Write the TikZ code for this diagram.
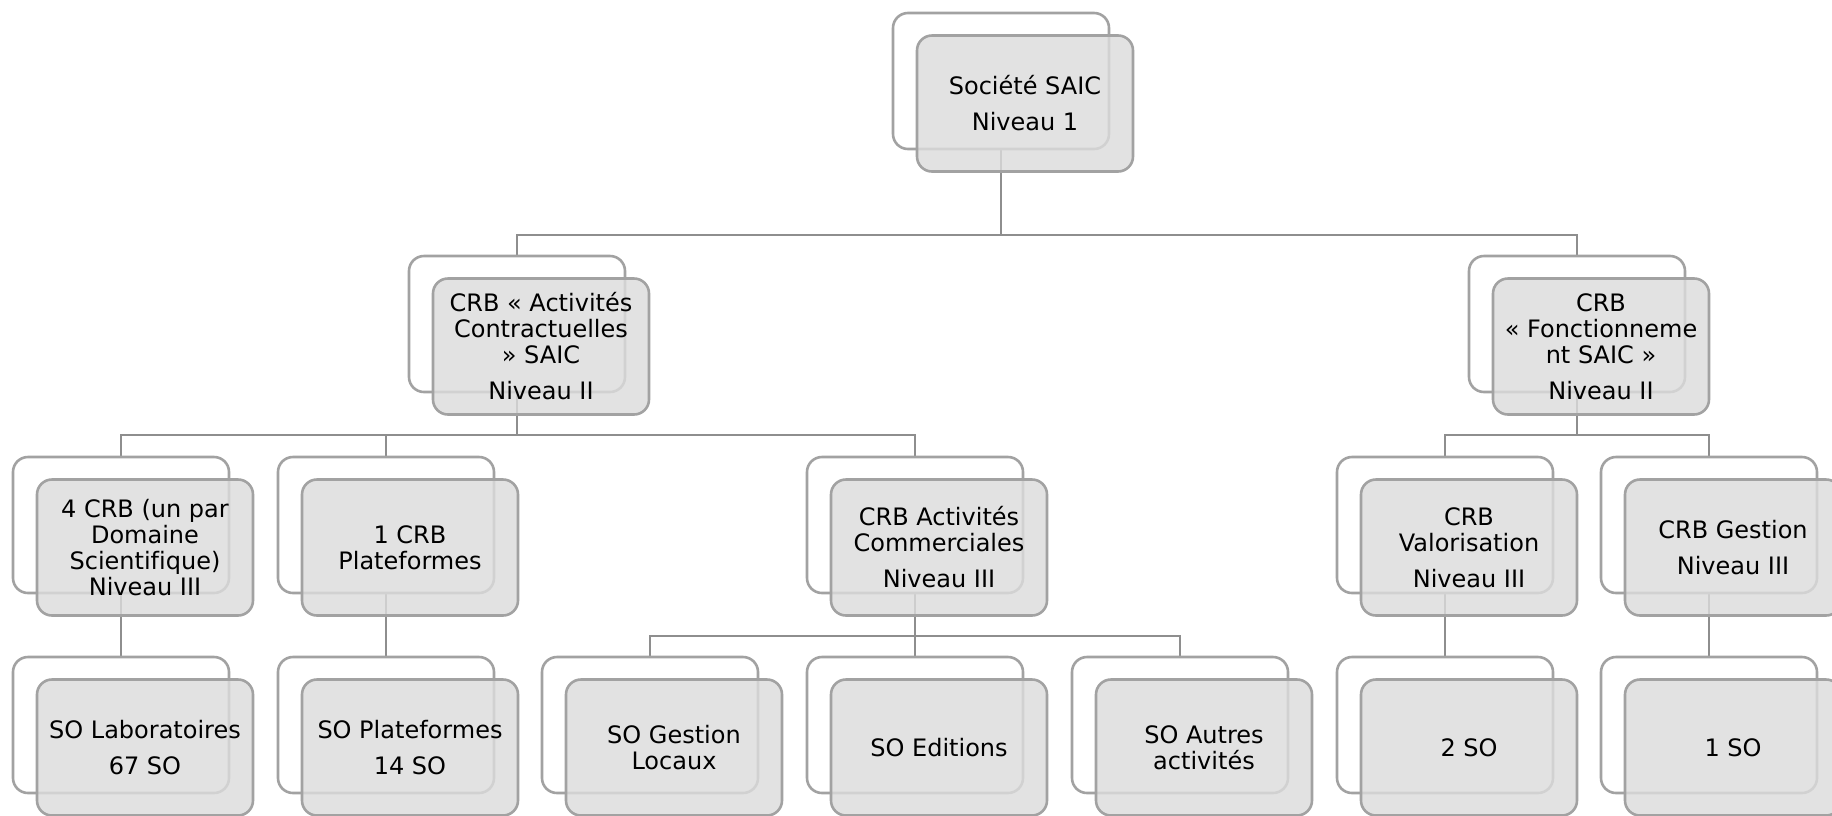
\documentclass[tikz,border=0pt]{standalone}
\usepackage{fontspec}
\setmainfont{DejaVu Sans}[Ligatures=NoCommon]
\usetikzlibrary{backgrounds}
\definecolor{boxgray}{HTML}{A2A2A2}
\definecolor{conngray}{HTML}{8E8E8E}
\definecolor{frontfill}{HTML}{DCDCDC}
\tikzset{
  backbox/.style={draw=boxgray, fill=white, line width=2.6pt, rounded corners=15pt,
    minimum width=216pt, minimum height=136pt, inner sep=0pt},
  frontbox/.style={draw=boxgray, fill=frontfill, fill opacity=0.82, text opacity=1,
    line width=2.6pt, rounded corners=15pt, minimum width=216pt, minimum height=136pt,
    inner sep=2pt, align=center, text=black, font=\fontsize{24}{26}\selectfont,
    xshift=24pt, yshift=-22.5pt},
  conn/.style={draw=conngray, line width=2.9pt},
}
\begin{document}
\begin{tikzpicture}[x=1pt, y=-1pt]
\useasboundingbox (0,0) rectangle (1832,815);
\clip (0,0) rectangle (1832,815);
\coordinate (barA) at (0,235);
\coordinate (barB) at (0,435);
\coordinate (barC) at (0,636);

% level 1
\node[backbox] (b1) at (1001,81) {};
\node[frontbox] (f1) at (b1) {Société SAIC\\[10pt]Niveau 1};

% level 2
\node[backbox] (b2a) at (517,324) {};
\node[frontbox] (f2a) at (b2a) {CRB « Activités\\Contractuelles\hspace*{8pt}\\» SAIC\\[10pt]Niveau II};
\node[backbox] (b2b) at (1577,324) {};
\node[frontbox] (f2b) at (b2b) {CRB\\« Fonctionneme\\nt SAIC »\\[10pt]Niveau II};

% level 3
\node[backbox] (b3a) at (121,525) {};
\node[frontbox] (f3a) at (b3a) {4 CRB (un par\\Domaine\\Scientifique)\\Niveau III};
\node[backbox] (b3b) at (386,525) {};
\node[frontbox] (f3b) at (b3b) {1 CRB\\Plateformes};
\node[backbox] (b3c) at (915,525) {};
\node[frontbox] (f3c) at (b3c) {CRB Activités\\Commerciales\\[10pt]Niveau III};
\node[backbox] (b3d) at (1445,525) {};
\node[frontbox] (f3d) at (b3d) {CRB\\Valorisation\\[10pt]Niveau III};
\node[backbox] (b3e) at (1709,525) {};
\node[frontbox] (f3e) at (b3e) {CRB Gestion\\[10pt]Niveau III};

% level 4
\node[backbox] (b4a) at (121,725) {};
\node[frontbox] (f4a) at (b4a) {SO Laboratoires\\[10pt]67 SO};
\node[backbox] (b4b) at (386,725) {};
\node[frontbox] (f4b) at (b4b) {SO Plateformes\\[10pt]14 SO};
\node[backbox] (b4c) at (650,725) {};
\node[frontbox] (f4c) at (b4c) {SO Gestion\\Locaux};
\node[backbox] (b4d) at (915,725) {};
\node[frontbox] (f4d) at (b4d) {SO Editions};
\node[backbox] (b4e) at (1180,725) {};
\node[frontbox] (f4e) at (b4e) {SO Autres\\activités};
\node[backbox] (b4f) at (1445,725) {};
\node[frontbox] (f4f) at (b4f) {2 SO};
\node[backbox] (b4g) at (1709,725) {};
\node[frontbox] (f4g) at (b4g) {1 SO};

\begin{scope}[on background layer]
  % level 1 -> 2
  \draw[conn] (b1.south) -- (b1.south |- barA);
  \draw[conn] (b1.south |- barA) -| (b2a.north);
  \draw[conn] (b1.south |- barA) -| (b2b.north);
  % level 2 -> 3 (left)
  \draw[conn] (b2a.south) -- (b2a.south |- barB);
  \draw[conn] (b2a.south |- barB) -| (b3a.north);
  \draw[conn] (b2a.south |- barB) -| (b3b.north);
  \draw[conn] (b2a.south |- barB) -| (b3c.north);
  % level 2 -> 3 (right)
  \draw[conn] (b2b.south) -- (b2b.south |- barB);
  \draw[conn] (b2b.south |- barB) -| (b3d.north);
  \draw[conn] (b2b.south |- barB) -| (b3e.north);
  % level 3 -> 4
  \draw[conn] (b3a.south) -- (b4a.north);
  \draw[conn] (b3b.south) -- (b4b.north);
  \draw[conn] (b3c.south) -- (b3c.south |- barC);
  \draw[conn] (b3c.south |- barC) -| (b4c.north);
  \draw[conn] (b3c.south |- barC) -| (b4d.north);
  \draw[conn] (b3c.south |- barC) -| (b4e.north);
  \draw[conn] (b3d.south) -- (b4f.north);
  \draw[conn] (b3e.south) -- (b4g.north);
\end{scope}
\end{tikzpicture}
\end{document}
